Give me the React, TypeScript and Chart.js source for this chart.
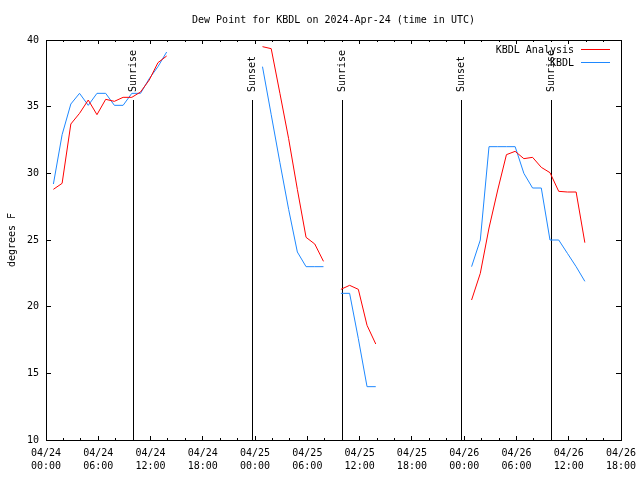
import React, { useEffect, useRef } from 'react';
import { Chart, registerables } from 'chart.js';

Chart.register(...registerables);

const FONT = "'DejaVu Sans Mono', 'Liberation Mono', monospace";

// Observation times in hours since 04/24 00:00 UTC (null rows break the lines)
const obsHours = [
  0.85, 1.85, 2.85, 3.85, 4.85, 5.85, 6.85, 7.85, 8.85, 9.85, 10.85, 11.85, 12.85, 13.85,
  19,
  24.85, 25.85, 26.85, 27.85, 28.85, 29.85, 30.85, 31.85,
  32.85,
  33.85, 34.85, 35.85, 36.85, 37.85,
  43,
  48.85, 49.85, 50.85, 51.85, 52.85, 53.85, 54.85, 55.85, 56.85, 57.85, 58.85, 59.85, 60.85, 61.85,
];

const analysisValues = [
  28.8, 29.25, 33.7, 34.5, 35.5, 34.4, 35.55, 35.4, 35.7, 35.7, 36.1, 37.0, 38.3, 38.8,
  null,
  39.5, 39.35, 36.0, 32.6, 28.8, 25.2, 24.7, 23.4,
  null,
  21.3, 21.6, 21.3, 18.6, 17.2,
  null,
  20.5, 22.5, 25.9, 28.75, 31.4, 31.65, 31.1, 31.2, 30.45, 30.05, 28.65, 28.6, 28.6, 24.8,
];

const observedValues = [
  29.2, 32.9, 35.2, 36.0, 35.1, 36.0, 36.0, 35.1, 35.1, 36.0, 36.0, 37.1, 38.0, 39.1,
  null,
  38.0, 34.4, 30.8, 27.3, 24.1, 23.0, 23.0, 23.0,
  null,
  21.0, 21.0, 17.6, 14.0, 14.0,
  null,
  23.0, 25.0, 32.0, 32.0, 32.0, 32.0, 30.0, 28.9, 28.9, 25.0, 25.0, 24.0, 23.0, 21.9,
];

const xTickDates = ['04/24', '04/24', '04/24', '04/24', '04/25', '04/25', '04/25', '04/25', '04/26', '04/26', '04/26', '04/26'];
const xTickTimes = ['00:00', '06:00', '12:00', '18:00', '00:00', '06:00', '12:00', '18:00', '00:00', '06:00', '12:00', '18:00'];

const eventHours = [10.02, 23.73, 34.01, 47.71, 58.0];
const eventLabels = ['Sunrise', 'Sunset', 'Sunrise', 'Sunset', 'Sunrise'];
const eventTopValue = 35.5;

const seriesNames = ['KBDL Analysis', 'KBDL'];
const seriesColors = ['#ff0000', '#1e88ff'];

const titleText = 'Dew Point for KBDL on 2024-Apr-24 (time in UTC)';
const yTitleText = 'degrees F';

const X_MIN = 0;
const X_MAX = 66;
const Y_MIN = 10;
const Y_MAX = 40;

const crisp = (v: number) => Math.floor(v) + 0.5;

export default function App() {
  const ref = useRef<HTMLCanvasElement>(null);

  useEffect(() => {
    const canvas = ref.current;
    if (!canvas) return;

    const overlay = {
      id: 'gnuplotOverlay',
      beforeDatasetsDraw(chart: any) {
        const ctx = chart.ctx;
        const xs = chart.scales.x;
        const ys = chart.scales.y;
        const bottom = chart.chartArea.bottom;
        const top = ys.getPixelForValue(eventTopValue);
        ctx.save();
        ctx.strokeStyle = '#000';
        ctx.lineWidth = 1;
        ctx.fillStyle = '#000';
        ctx.font = `10px ${FONT}`;
        eventHours.forEach((h, i) => {
          const px = crisp(xs.getPixelForValue(h));
          ctx.beginPath();
          ctx.moveTo(px, bottom);
          ctx.lineTo(px, Math.round(top));
          ctx.stroke();
          ctx.save();
          ctx.translate(px, Math.round(top) - 8);
          ctx.rotate(-Math.PI / 2);
          ctx.textAlign = 'left';
          ctx.textBaseline = 'middle';
          ctx.fillText(eventLabels[i], 0, 0);
          ctx.restore();
        });
        ctx.restore();
      },
      afterDraw(chart: any) {
        const ctx = chart.ctx;
        const { left, right, top, bottom } = chart.chartArea;
        const xs = chart.scales.x;
        const ys = chart.scales.y;
        ctx.save();
        ctx.strokeStyle = '#000';
        ctx.lineWidth = 1;
        // frame
        ctx.strokeRect(crisp(left), crisp(top), Math.round(right - left), Math.round(bottom - top));
        // x ticks (major every 6h, minor every 2h), mirrored on top
        ctx.beginPath();
        for (let h = X_MIN; h <= X_MAX; h += 2) {
          const px = crisp(xs.getPixelForValue(h));
          const len = h % 6 === 0 ? 4 : 2;
          ctx.moveTo(px, Math.round(bottom));
          ctx.lineTo(px, Math.round(bottom) - len);
          ctx.moveTo(px, Math.round(top));
          ctx.lineTo(px, Math.round(top) + len);
        }
        // y ticks, mirrored on right
        ys.ticks.forEach((t: any) => {
          const py = crisp(ys.getPixelForValue(t.value));
          ctx.moveTo(Math.round(left), py);
          ctx.lineTo(Math.round(left) + 5, py);
          ctx.moveTo(Math.round(right), py);
          ctx.lineTo(Math.round(right) - 5, py);
        });
        ctx.stroke();

        // title
        ctx.fillStyle = '#000';
        ctx.font = `10px ${FONT}`;
        ctx.textAlign = 'center';
        ctx.textBaseline = 'middle';
        ctx.fillText(titleText, (left + right) / 2, 20);

        // y title
        ctx.save();
        ctx.translate(12, (top + bottom) / 2);
        ctx.rotate(-Math.PI / 2);
        ctx.textAlign = 'center';
        ctx.textBaseline = 'middle';
        ctx.fillText(yTitleText, 0, 0);
        ctx.restore();

        // legend
        seriesNames.forEach((name, i) => {
          const ly = 49.5 + i * 13;
          ctx.fillStyle = '#000';
          ctx.textAlign = 'right';
          ctx.textBaseline = 'middle';
          ctx.fillText(name, right - 47, ly + 0.5);
          ctx.strokeStyle = seriesColors[i];
          ctx.beginPath();
          ctx.moveTo(right - 40, ly);
          ctx.lineTo(right - 11, ly);
          ctx.stroke();
        });
        ctx.restore();
      },
    };

    const chart = new Chart(canvas, {
      type: 'line',
      data: {
        datasets: [
          {
            label: seriesNames[0],
            data: obsHours.map((h, i) => ({ x: h, y: analysisValues[i] })),
            borderColor: seriesColors[0],
            backgroundColor: seriesColors[0],
            borderWidth: 1,
            pointRadius: 0,
            tension: 0,
            spanGaps: false,
            fill: false,
          },
          {
            label: seriesNames[1],
            data: obsHours.map((h, i) => ({ x: h, y: observedValues[i] })),
            borderColor: seriesColors[1],
            backgroundColor: seriesColors[1],
            borderWidth: 1,
            pointRadius: 0,
            tension: 0,
            spanGaps: false,
            fill: false,
          },
        ],
      },
      options: {
        animation: false,
        responsive: false,
        devicePixelRatio: 1,
        layout: { padding: { left: 0, top: 40, right: 19, bottom: 0 } },
        plugins: {
          legend: { display: false },
          title: { display: false },
          tooltip: { enabled: false },
        },
        scales: {
          x: {
            type: 'linear',
            min: X_MIN,
            max: X_MAX,
            grid: { display: false, drawTicks: false },
            border: { display: false },
            afterFit: (s: any) => {
              s.height = 40;
              s.paddingLeft = 0;
              s.paddingRight = 0;
            },
            ticks: {
              stepSize: 6,
              autoSkip: false,
              maxRotation: 0,
              minRotation: 0,
              padding: 7,
              color: '#000',
              font: { family: FONT, size: 10, lineHeight: 1.3 },
              callback: (_v: any, i: number) => [xTickDates[i], xTickTimes[i]],
            },
          },
          y: {
            min: Y_MIN,
            max: Y_MAX,
            grid: { display: false, drawTicks: false },
            border: { display: false },
            afterFit: (s: any) => {
              s.width = 46;
              s.paddingTop = 0;
              s.paddingBottom = 0;
            },
            ticks: {
              stepSize: 5,
              padding: 7,
              color: '#000',
              font: { family: FONT, size: 10 },
            },
          },
        },
      },
      plugins: [overlay],
    } as any);

    return () => chart.destroy();
  }, []);

  return (
    <div style={{ position: 'absolute', left: 0, top: 0, width: 640, height: 480, background: '#fff' }}>
      <canvas ref={ref} width={640} height={480} style={{ display: 'block' }} />
    </div>
  );
}
